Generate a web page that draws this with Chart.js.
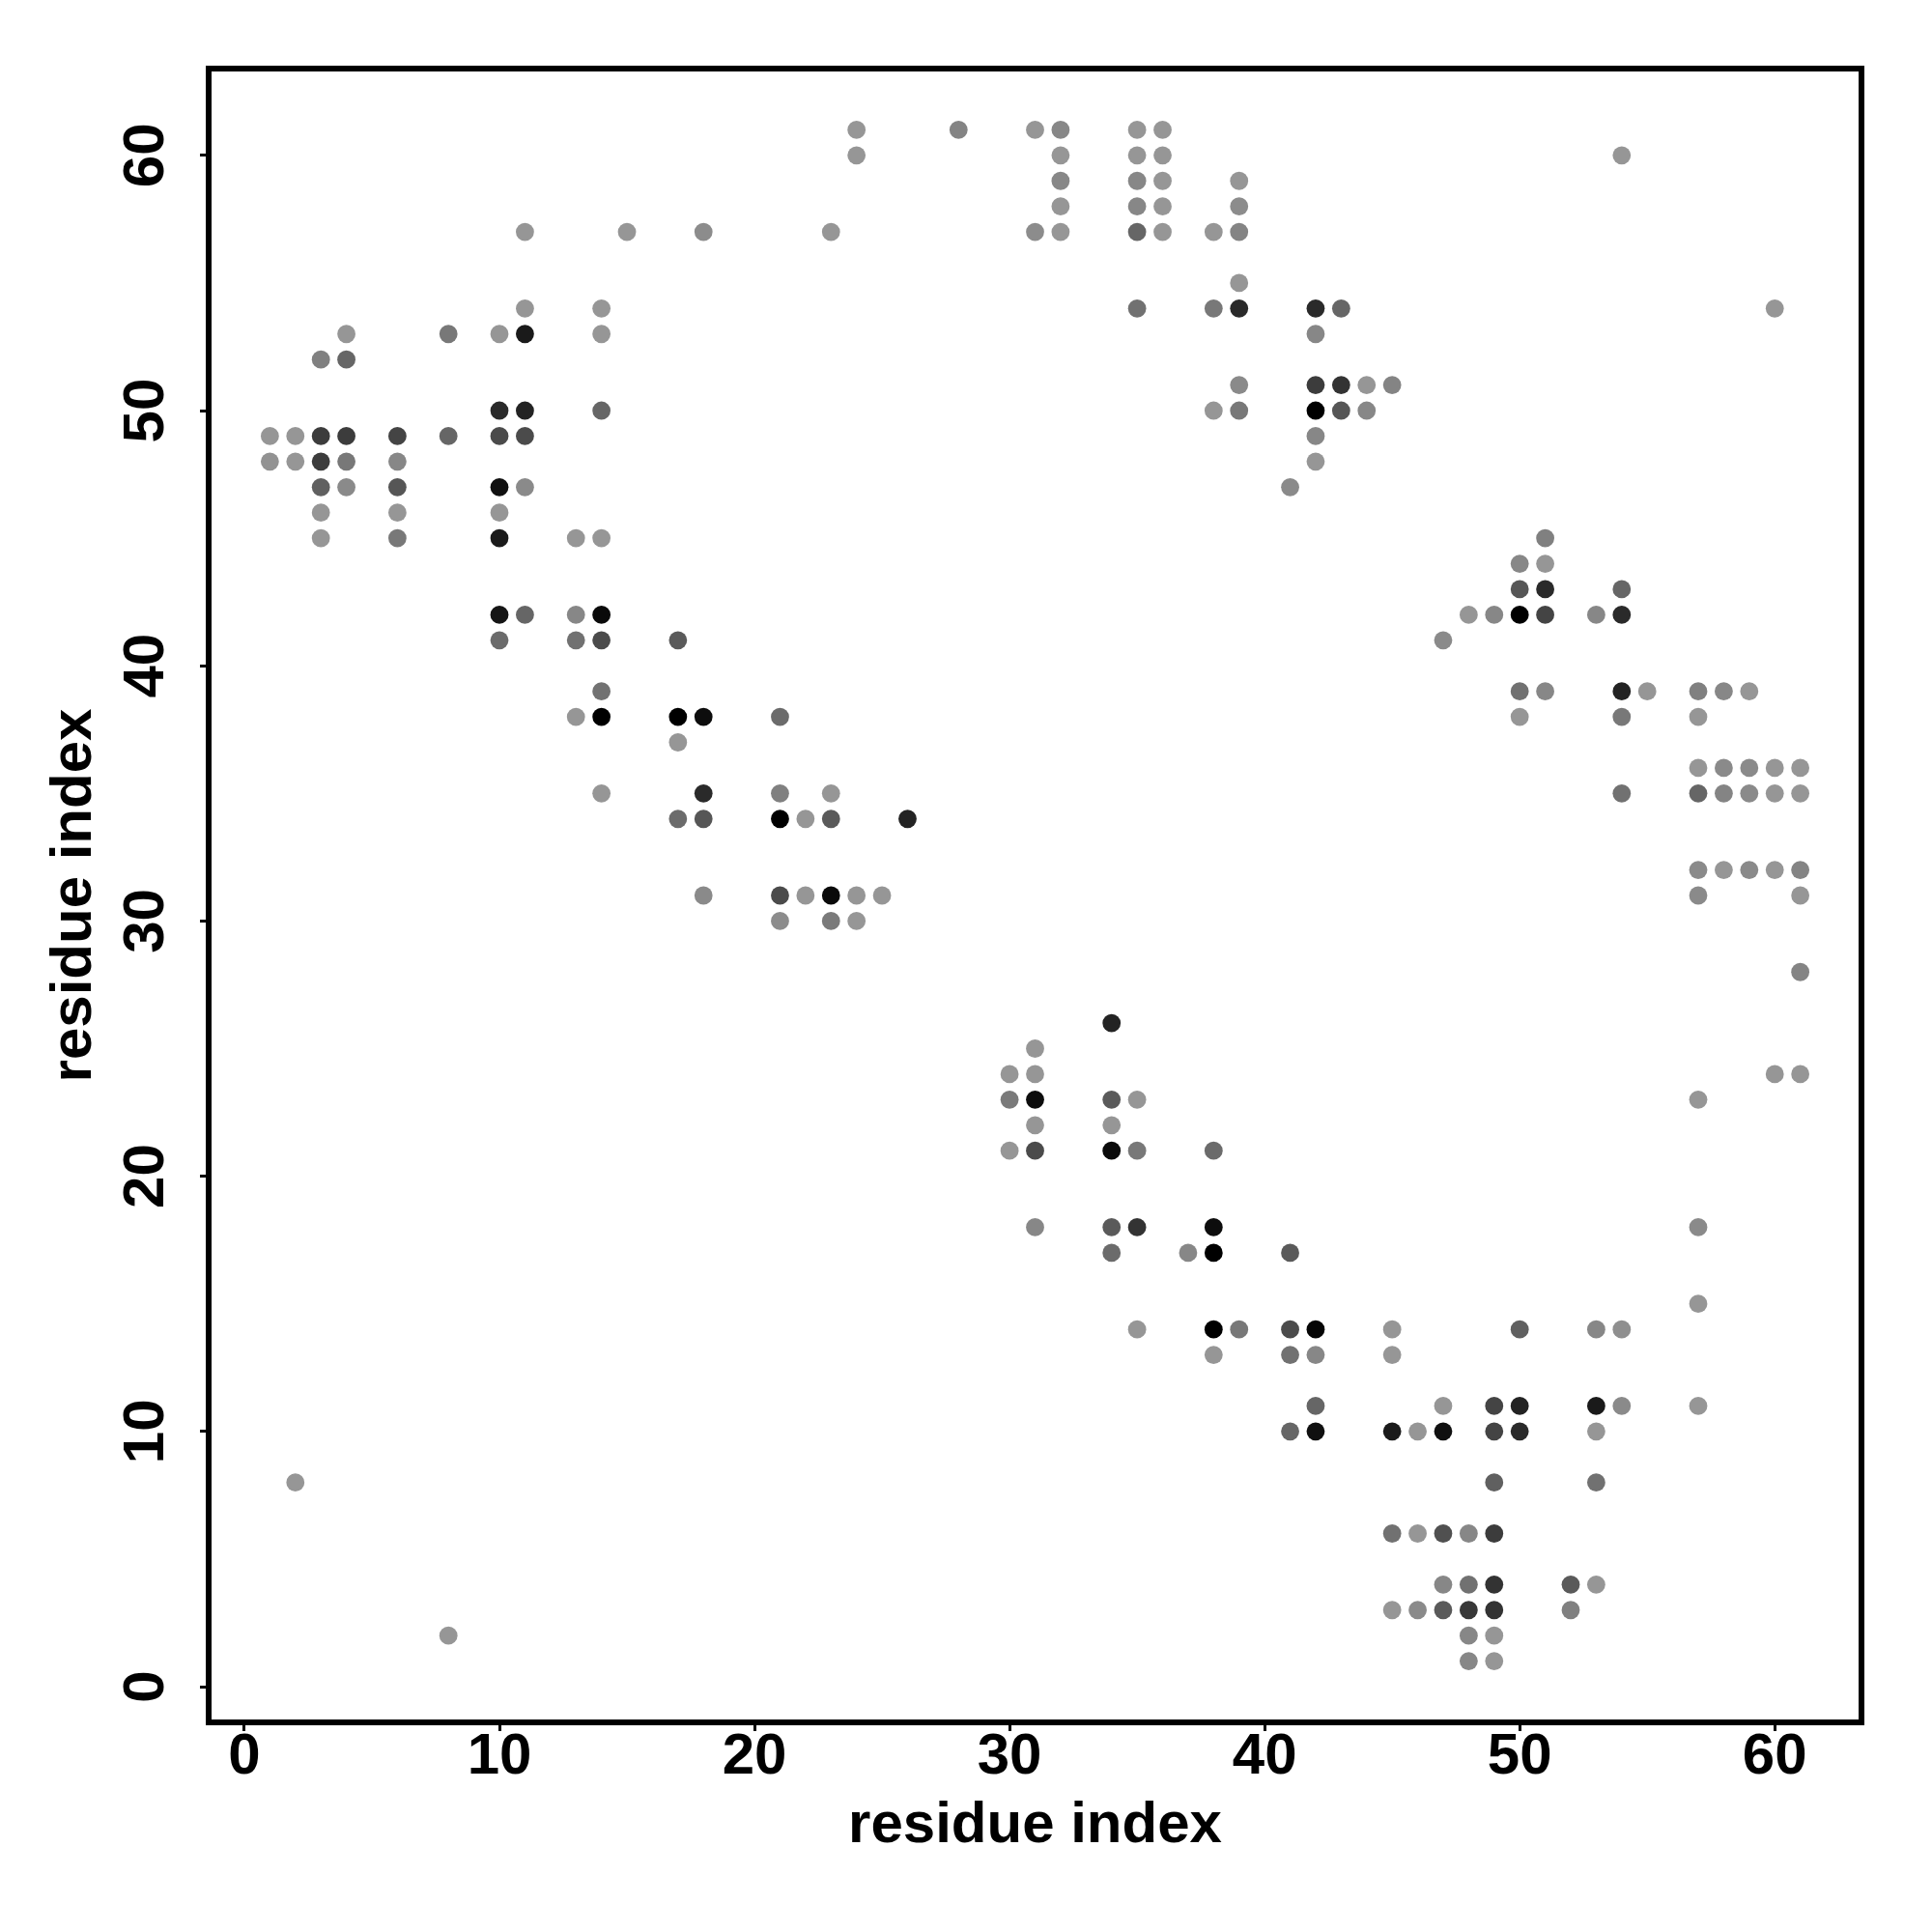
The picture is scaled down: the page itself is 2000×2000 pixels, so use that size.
<!DOCTYPE html>
<html>
<head>
<meta charset="utf-8">
<script src="https://cdn.jsdelivr.net/npm/chart.js@4.4.1/dist/chart.umd.min.js"></script>
<style>
  html, body { margin: 0; padding: 0; background: #fff; }
  #wrap { width: 2000px; height: 2000px; }
</style>
</head>
<body>
<div id="wrap"><canvas id="contact-map" width="2000" height="2000"></canvas></div>
<script>
// contact map: one row per residue j, listing partner residues i and contact score (0 = weak, 1 = strong)
const rowY = [61, 60, 59, 58, 57, 55, 54, 53, 52, 51, 50, 49, 48, 47, 46, 45, 44, 43, 42, 41,
              39, 38, 37, 36, 35, 34, 32, 31, 30, 28, 26, 25, 24, 23, 22, 21, 18, 17, 15, 14,
              13, 11, 10, 8, 6, 4, 3, 2, 1];

const rowX = [
    [24, 28, 31, 32, 35, 36],
    [24, 32, 35, 36, 54],
    [32, 35, 36, 39],
    [32, 35, 36, 39],
    [11, 15, 18, 23, 31, 32, 35, 36, 38, 39],
    [39],
    [11, 14, 35, 38, 39, 42, 43, 60],
    [4, 8, 10, 11, 14, 42],
    [3, 4],
    [39, 42, 43, 44, 45],
    [10, 11, 14, 38, 39, 42, 43, 44],
    [1, 2, 3, 4, 6, 8, 10, 11, 42],
    [1, 2, 3, 4, 6, 42],
    [3, 4, 6, 10, 11, 41],
    [3, 6, 10],
    [3, 6, 10, 13, 14, 51],
    [50, 51],
    [50, 51, 54],
    [10, 11, 13, 14, 48, 49, 50, 51, 53, 54],
    [10, 13, 14, 17, 47],
    [14, 50, 51, 54, 55, 57, 58, 59],
    [13, 14, 17, 18, 21, 50, 54, 57],
    [17],
    [57, 58, 59, 60, 61],
    [14, 18, 21, 23, 54, 57, 58, 59, 60, 61],
    [17, 18, 21, 22, 23, 26],
    [57, 58, 59, 60, 61],
    [18, 21, 22, 23, 24, 25, 57, 61],
    [21, 23, 24],
    [61],
    [34],
    [31],
    [30, 31, 60, 61],
    [30, 31, 34, 35, 57],
    [31, 34],
    [30, 31, 34, 35, 38],
    [31, 34, 35, 38, 57],
    [34, 37, 38, 41],
    [57],
    [35, 38, 39, 41, 42, 45, 50, 53, 54],
    [38, 41, 42, 45],
    [42, 47, 49, 50, 53, 54, 57],
    [41, 42, 45, 46, 47, 49, 50, 53],
    [2, 49, 53],
    [45, 46, 47, 48, 49],
    [47, 48, 49, 52, 53],
    [45, 46, 47, 48, 49, 52],
    [8, 48, 49],
    [48, 49]
];

const rowScore = [
    [0, 0.12, 0, 0.1, 0, 0],
    [0, 0, 0, 0, 0],
    [0.1, 0.1, 0, 0],
    [0, 0.1, 0, 0.07],
    [0, 0, 0.07, 0, 0.07, 0, 0.32, 0, 0, 0.12],
    [0],
    [0, 0, 0.25, 0.2, 0.72, 0.72, 0.32, 0],
    [0, 0.2, 0, 0.83, 0, 0.1],
    [0.15, 0.32],
    [0.08, 0.6, 0.66, 0, 0.12],
    [0.72, 0.77, 0.32, 0, 0.2, 1, 0.43, 0.1],
    [0, 0, 0.6, 0.6, 0.55, 0.32, 0.5, 0.5, 0.1],
    [0.03, 0, 0.6, 0.2, 0.1, 0],
    [0.36, 0.08, 0.43, 0.89, 0.08, 0.08],
    [0, 0, 0],
    [0, 0.2, 0.83, 0, 0, 0.15],
    [0.1, 0],
    [0.43, 0.72, 0.32],
    [0.86, 0.32, 0.1, 0.93, 0, 0.1, 1, 0.55, 0.1, 0.72],
    [0.29, 0.25, 0.5, 0.4, 0.08],
    [0.24, 0.25, 0.1, 0.77, 0, 0.15, 0.1, 0],
    [0, 1, 1, 0.91, 0.29, 0, 0.2, 0],
    [0],
    [0, 0.08, 0.08, 0, 0],
    [0, 0.72, 0.15, 0, 0.25, 0.32, 0.12, 0.08, 0, 0],
    [0.29, 0.43, 1, 0, 0.4, 0.77],
    [0.08, 0, 0.08, 0, 0.12],
    [0.08, 0.5, 0, 0.93, 0, 0, 0.08, 0],
    [0.07, 0.19, 0],
    [0.12],
    [0.77],
    [0],
    [0, 0, 0, 0],
    [0.19, 0.91, 0.4, 0, 0],
    [0, 0],
    [0, 0.5, 0.93, 0.2, 0.29],
    [0.1, 0.4, 0.66, 0.91, 0.08],
    [0.29, 0.1, 1, 0.4],
    [0],
    [0, 1, 0.2, 0.5, 0.97, 0, 0.36, 0.1, 0.05],
    [0, 0.25, 0.1, 0],
    [0.32, 0, 0.55, 0.77, 0.83, 0.08, 0],
    [0.32, 0.89, 0.83, 0, 0.89, 0.55, 0.72, 0],
    [0, 0.36, 0.25],
    [0.25, 0, 0.47, 0.1, 0.6],
    [0.1, 0.25, 0.66, 0.4, 0],
    [0, 0.08, 0.4, 0.63, 0.66, 0.15],
    [0, 0.1, 0],
    [0.1, 0]
];

const axisMin = -1.4;
const axisMax = 63.4;
const tickStep = 10;
const axisLabel = 'residue index';

const fontFamily = '"Liberation Sans", Arial, Helvetica, sans-serif';

// flatten rows into points, score -> grey level (light grey .. black)
const points = [];
const pointColors = [];
rowY.forEach((y, r) => {
    rowX[r].forEach((x, k) => {
        points.push({ x: x, y: y });
        const g = Math.round(150 * (1 - rowScore[r][k]));
        pointColors.push(`rgb(${g},${g},${g})`);
    });
});

// box around the plot + rotated y tick labels (like R's las=0)
const frameAndLabels = {
    id: 'frameAndLabels',
    afterDraw(chart) {
        const ctx = chart.ctx;
        const area = chart.chartArea;
        ctx.save();
        ctx.strokeStyle = '#000';
        ctx.lineWidth = 6;
        ctx.strokeRect(area.left, area.top, area.right - area.left, area.bottom - area.top);

        const yScale = chart.scales.y;
        ctx.font = 'bold 60px ' + fontFamily;
        ctx.fillStyle = '#000';
        ctx.textAlign = 'center';
        ctx.textBaseline = 'alphabetic';
        yScale.ticks.forEach(t => {
            const py = yScale.getPixelForValue(t.value);
            ctx.save();
            ctx.translate(169, py);
            ctx.rotate(-Math.PI / 2);
            ctx.fillText(String(t.value), 0, 0);
            ctx.restore();
        });
        ctx.restore();
    }
};

const tickGrid = {
    drawOnChartArea: false,
    drawTicks: true,
    tickLength: 9,
    tickWidth: 3,
    tickColor: '#000'
};

new Chart(document.getElementById('contact-map'), {
    type: 'scatter',
    data: {
        datasets: [{
            data: points,
            backgroundColor: pointColors,
            borderColor: pointColors,
            borderWidth: 0,
            pointRadius: 9.4,
            pointHoverRadius: 9.4
        }]
    },
    options: {
        responsive: false,
        devicePixelRatio: 1,
        animation: false,
        layout: {
            padding: { top: 71, right: 73, left: 0, bottom: 0 }
        },
        plugins: {
            legend: { display: false },
            tooltip: { enabled: false }
        },
        scales: {
            x: {
                type: 'linear',
                min: axisMin,
                max: axisMax,
                grid: tickGrid,
                border: { display: false },
                ticks: {
                    stepSize: tickStep,
                    includeBounds: false,
                    autoSkip: false,
                    maxRotation: 0,
                    padding: -9,
                    color: '#000',
                    font: { family: fontFamily, size: 60, weight: 'bold', lineHeight: 1.2 }
                },
                title: {
                    display: true,
                    text: axisLabel,
                    color: '#000',
                    padding: { top: 0, bottom: 74 },
                    font: { family: fontFamily, size: 60, weight: 'bold', lineHeight: 1.2 }
                },
                afterFit(scale) { scale.height = 217; }
            },
            y: {
                type: 'linear',
                min: axisMin,
                max: axisMax,
                grid: tickGrid,
                border: { display: false },
                ticks: {
                    stepSize: tickStep,
                    includeBounds: false,
                    display: false
                },
                title: {
                    display: true,
                    text: axisLabel,
                    color: '#000',
                    padding: { top: 41, bottom: 0 },
                    font: { family: fontFamily, size: 60, weight: 'bold', lineHeight: 1.2 }
                },
                afterFit(scale) { scale.width = 216; }
            }
        }
    },
    plugins: [frameAndLabels]
});
</script>
</body>
</html>
